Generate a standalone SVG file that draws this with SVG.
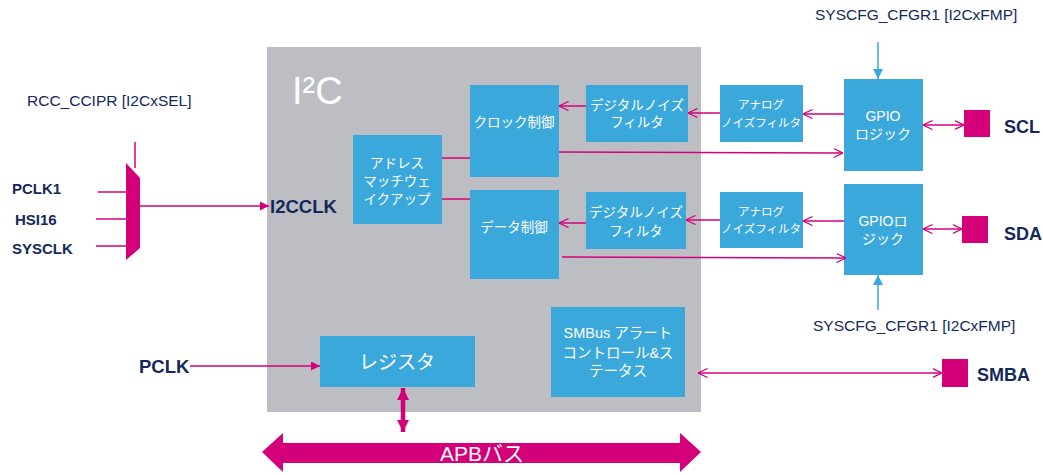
<svg xmlns="http://www.w3.org/2000/svg" width="1043" height="475" viewBox="0 0 1043 475">
<style>
.blk{fill:#3ba8dc}
.wt{fill:#fff;font-family:"Liberation Sans","Noto Sans CJK JP",sans-serif;text-anchor:middle}
.lbl{fill:#14295a;font-family:"Liberation Sans","Noto Sans CJK JP",sans-serif}
.bold{font-weight:bold}
.ln{stroke:#d4007a;stroke-width:1.5;fill:none}
.pad{fill:#d4007a}
</style>
<defs>
<marker id="open" viewBox="0 0 10 10" refX="9.5" refY="5" markerWidth="10" markerHeight="10" markerUnits="userSpaceOnUse" orient="auto-start-reverse">
<path d="M0,0.5 L9.5,5 L0,9.5" fill="none" stroke="#d4007a" stroke-width="1.2"/>
</marker>
<marker id="fill" viewBox="0 0 10 10" refX="10" refY="5" markerWidth="9" markerHeight="9" markerUnits="userSpaceOnUse" orient="auto-start-reverse">
<path d="M0,0 L10,5 L0,10 Z" fill="#d4007a"/>
</marker>
<marker id="blue" viewBox="0 0 10 10" refX="10" refY="5" markerWidth="10" markerHeight="10" markerUnits="userSpaceOnUse" orient="auto">
<path d="M0,0 L10,5 L0,10 Z" fill="#3ba8dc"/>
</marker>
<marker id="thick" viewBox="0 0 10 10" refX="10" refY="5" markerWidth="12" markerHeight="12" markerUnits="userSpaceOnUse" orient="auto-start-reverse">
<path d="M0,0 L10,5 L0,10 Z" fill="#d4007a"/>
</marker>
</defs>

<g id="i2c">
<rect x="267" y="47" width="434" height="365" fill="#bcbec3"/>
<text x="292" y="104" font-family="Liberation Sans,sans-serif" font-size="38" fill="#fff" font-weight="300">I²C</text>
</g>

<g id="addr"><rect class="blk" x="353" y="135" width="89" height="89"/>
<text class="wt" font-size="13.5" x="397" y="168">アドレス</text>
<text class="wt" font-size="13.5" x="397" y="186">マッチウェ</text>
<text class="wt" font-size="13.5" x="397" y="204">イクアップ</text></g>

<g id="clk"><rect class="blk" x="470" y="85" width="89" height="92"/>
<text class="wt" font-size="13.5" x="514" y="127">クロック制御</text></g>

<g id="data"><rect class="blk" x="470" y="190" width="89" height="89"/>
<text class="wt" font-size="13.5" x="514" y="232">データ制御</text></g>

<g id="dnf1"><rect class="blk" x="586" y="85" width="102" height="57"/>
<text class="wt" font-size="13.5" x="637" y="110">デジタルノイズ</text>
<text class="wt" font-size="13.5" x="637" y="127">フィルタ</text></g>

<g id="dnf2"><rect class="blk" x="586" y="192" width="100" height="57"/>
<text class="wt" font-size="13.5" x="636" y="217">デジタルノイズ</text>
<text class="wt" font-size="13.5" x="636" y="236">フィルタ</text></g>

<g id="anf1"><rect class="blk" x="720" y="85" width="83" height="57"/>
<text class="wt" font-size="11.5" x="761" y="109">アナログ</text>
<text class="wt" font-size="11.5" x="761" y="127">ノイズフィルタ</text></g>

<g id="anf2"><rect class="blk" x="720" y="192" width="83" height="56"/>
<text class="wt" font-size="11.5" x="761" y="216">アナログ</text>
<text class="wt" font-size="11.5" x="761" y="233">ノイズフィルタ</text></g>

<g id="gpio1"><rect class="blk" x="844" y="79" width="79" height="92"/>
<text class="wt" font-size="14" x="883" y="121">GPIO</text>
<text class="wt" font-size="14" x="883" y="139">ロジック</text></g>

<g id="gpio2"><rect class="blk" x="844" y="184" width="79" height="91"/>
<text class="wt" font-size="14" x="883" y="226">GPIOロ</text>
<text class="wt" font-size="14" x="883" y="244">ジック</text></g>

<g id="reg"><rect class="blk" x="320" y="336" width="155" height="51"/>
<text class="wt" font-size="19" x="397" y="369">レジスタ</text></g>

<g id="smbus"><rect class="blk" x="551" y="307" width="134" height="90"/>
<text class="wt" font-size="14.5" x="618" y="338">SMBus アラート</text>
<text class="wt" font-size="14.5" x="618" y="358">コントロール&amp;ス</text>
<text class="wt" font-size="14.5" x="618" y="376">テータス</text></g>

<g id="scl"><rect class="pad" x="964" y="110" width="26" height="27"/>
<text class="lbl bold" font-size="18" x="1004" y="133">SCL</text></g>
<g id="sda"><rect class="pad" x="962" y="216" width="26" height="27"/>
<text class="lbl bold" font-size="18" x="1004" y="240">SDA</text></g>
<g id="smba"><rect class="pad" x="942" y="359" width="26" height="28"/>
<text class="lbl bold" font-size="18" x="977" y="381">SMBA</text></g>

<g id="mux">
<polygon points="126,163 140,178 140,248 126,260" fill="#d4007a"/>
<text class="lbl" font-size="15.5" x="27" y="106">RCC_CCIPR [I2CxSEL]</text>
<text class="lbl bold" font-size="15" x="12" y="194">PCLK1</text>
<text class="lbl bold" font-size="15" x="15" y="225">HSI16</text>
<text class="lbl bold" font-size="15" x="12" y="254">SYSCLK</text>
<text class="lbl bold" font-size="18.5" x="270" y="213">I2CCLK</text>
<text class="lbl bold" font-size="18.5" x="139" y="373">PCLK</text>
</g>

<g id="cfg">
<text class="lbl" font-size="15.5" x="815" y="20">SYSCFG_CFGR1 [I2CxFMP]</text>
<text class="lbl" font-size="15.5" x="813" y="331">SYSCFG_CFGR1 [I2CxFMP]</text>
</g>

<g id="apb">
<polygon points="262,452 283,433 283,443 680,443 680,433 701,452 680,472 680,463 283,463 283,472" fill="#d4007a"/>
<text class="wt" font-size="21" x="482" y="461">APBバス</text>
</g>

<g id="connectors">
<line x1="135" y1="142" x2="135" y2="168" stroke="#d4007a" stroke-width="1.5"/>
<line class="ln" x1="98" y1="192" x2="126" y2="192"/>
<line class="ln" x1="96" y1="219" x2="126" y2="219"/>
<line class="ln" x1="96" y1="246" x2="126" y2="246"/>
<line class="ln" x1="140" y1="206" x2="269" y2="206" marker-end="url(#fill)"/>
<line class="ln" x1="190" y1="366" x2="320" y2="366" marker-end="url(#fill)"/>
<line class="ln" x1="442" y1="158" x2="470" y2="158"/>
<line class="ln" x1="442" y1="199" x2="470" y2="199"/>
<line class="ln" x1="586" y1="106" x2="559" y2="106" marker-end="url(#open)"/>
<line class="ln" x1="720" y1="113" x2="688" y2="113" marker-end="url(#open)"/>
<line class="ln" x1="844" y1="114" x2="803" y2="114" marker-end="url(#open)"/>
<line class="ln" x1="559" y1="152" x2="843" y2="153" marker-end="url(#open)"/>
<line class="ln" x1="923" y1="125" x2="964" y2="125" marker-start="url(#open)" marker-end="url(#open)"/>
<line class="ln" x1="586" y1="223" x2="559" y2="223" marker-end="url(#open)"/>
<line class="ln" x1="720" y1="220" x2="686" y2="220" marker-end="url(#open)"/>
<line class="ln" x1="844" y1="221" x2="803" y2="221" marker-end="url(#open)"/>
<line class="ln" x1="562" y1="257" x2="846" y2="258" marker-end="url(#open)"/>
<line class="ln" x1="923" y1="229" x2="962" y2="229" marker-start="url(#open)" marker-end="url(#open)"/>
<line class="ln" x1="698" y1="373" x2="942" y2="373" marker-start="url(#open)" marker-end="url(#open)"/>
<line x1="403" y1="388" x2="403" y2="432" stroke="#d4007a" stroke-width="4.5" marker-start="url(#thick)" marker-end="url(#thick)"/>
<line x1="878" y1="42" x2="878" y2="79" stroke="#3ba8dc" stroke-width="1.5" marker-end="url(#blue)"/>
<line x1="878" y1="310" x2="878" y2="275" stroke="#3ba8dc" stroke-width="1.5" marker-end="url(#blue)"/>
</g>
</svg>
